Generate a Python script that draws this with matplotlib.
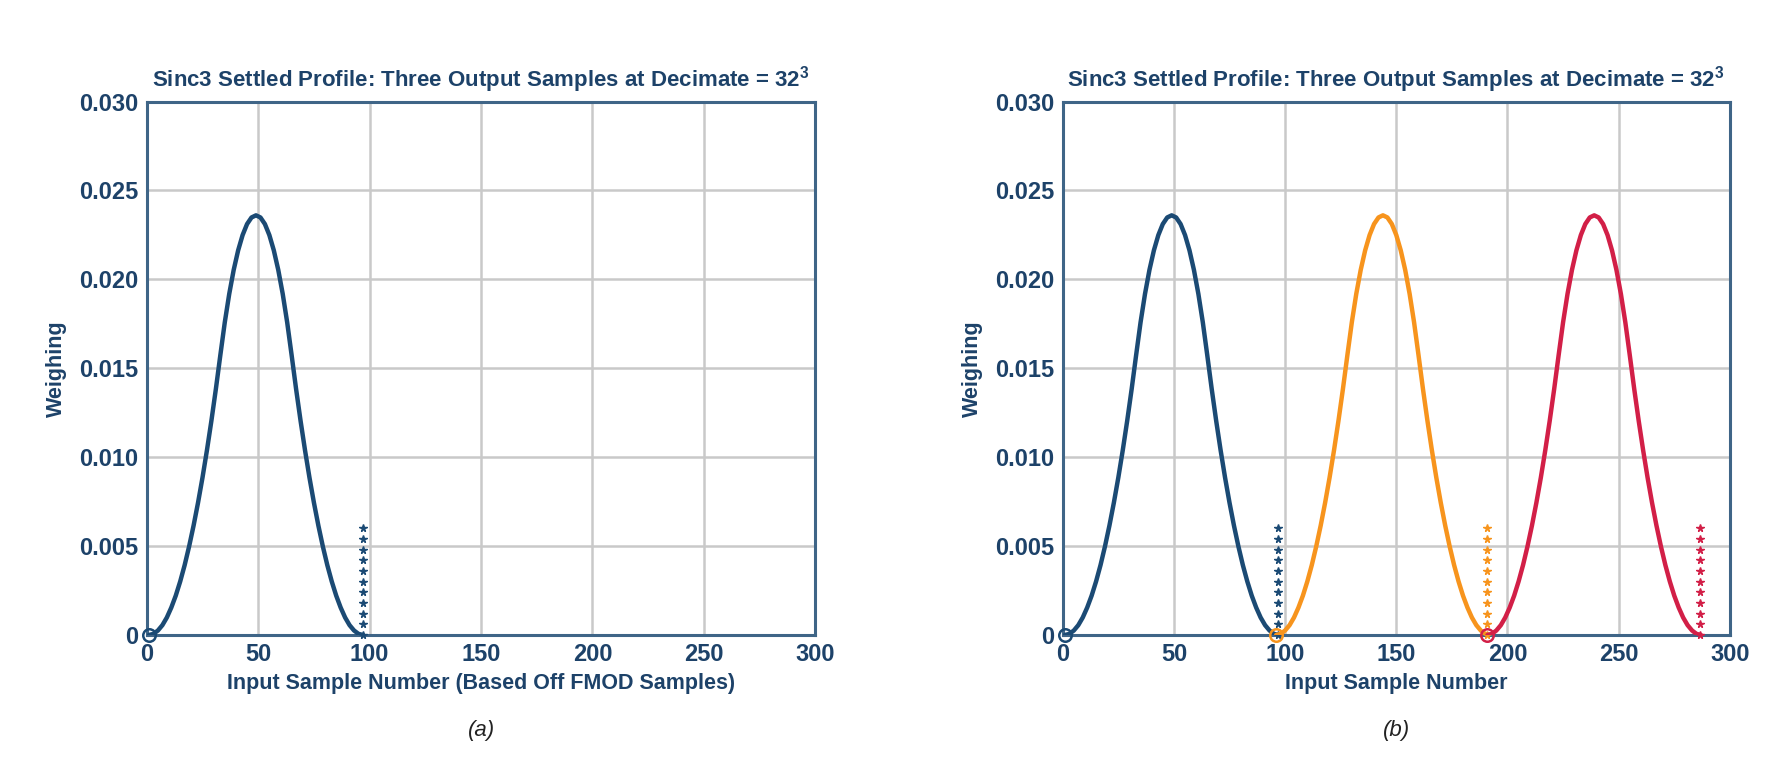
import matplotlib.pyplot as plt
import matplotlib

matplotlib.rcParams['font.family'] = ['Liberation Sans', 'DejaVu Sans']
matplotlib.rcParams['mathtext.fontset'] = 'custom'
matplotlib.rcParams['mathtext.rm'] = 'Liberation Sans:bold'

# one settled sinc3 weighting profile
profile_x = [1, 3, 5, 7, 9, 11, 13, 15, 17, 19, 21, 23, 25, 27, 29, 31, 33,
             35, 37, 39, 41, 43, 45, 47, 49, 51, 53, 55, 57, 59, 61, 63, 65,
             67, 69, 71, 73, 75, 77, 79, 81, 83, 85, 87, 89, 91, 93, 95, 97]
profile_w = [0.0, 0.00006, 0.00025, 0.00055, 0.00098, 0.00154, 0.00221,
             0.00301, 0.00393, 0.00498, 0.00615, 0.00744, 0.00885, 0.01039,
             0.01205, 0.01383, 0.01573, 0.01758, 0.01918, 0.02053, 0.02163,
             0.02249, 0.02311, 0.02348, 0.0236,
             0.02348, 0.02311, 0.02249, 0.02163, 0.02053, 0.01918, 0.01758,
             0.01573, 0.01383, 0.01205, 0.01039, 0.00885, 0.00744, 0.00615,
             0.00498, 0.00393, 0.00301, 0.00221, 0.00154, 0.00098, 0.00055,
             0.00025, 0.00006, 0.0]

# shift of each output sample's profile (input samples)
shifts = [0, 95, 190]
colors = ['#1b4a74', '#f7941d', '#d21f47']

# dotted markers where each output sample is taken
dot_x = [96.8, 191, 286.4]
dot_levels = [0.0, 0.0006, 0.0012, 0.0018, 0.0024, 0.003, 0.0036,
              0.0042, 0.0048, 0.0054, 0.006]

x_ticks = [0, 50, 100, 150, 200, 250, 300]
y_ticks = [0, 0.005, 0.010, 0.015, 0.020, 0.025, 0.030]
y_ticklabels = ['0', '0.005', '0.010', '0.015', '0.020', '0.025', '0.030']

title = 'Sinc3 Settled Profile: Three Output Samples at Decimate = 32$^{\\mathrm{3}}$'
xlabels = ['Input Sample Number (Based Off FMOD Samples)', 'Input Sample Number']
captions = ['(a)', '(b)']

txt = '#1d4269'
spine_c = '#3f6587'

fig = plt.figure(figsize=(17.9, 7.81), dpi=100)
axes = [fig.add_axes([0.082, 0.187, 0.3735, 0.683]),
        fig.add_axes([0.5937, 0.187, 0.3727, 0.683])]

for i, ax in enumerate(axes):
    n = 1 if i == 0 else 3
    for k in range(n):
        xs = [x + shifts[k] for x in profile_x]
        ax.plot(xs, profile_w, color=colors[k], lw=3.2, zorder=3,
                solid_capstyle='round', solid_joinstyle='round')
        ax.plot([xs[0]], [profile_w[0]], 'o', ms=9, mfc='none', mec=colors[k],
                mew=1.8, zorder=4, clip_on=False)
        ax.plot([dot_x[k]] * len(dot_levels), dot_levels, '*', ms=5.5,
                color=colors[k], zorder=3, clip_on=False)

    ax.set_xlim(0, 300)
    ax.set_ylim(0, 0.030)
    ax.set_xticks(x_ticks)
    ax.set_yticks(y_ticks)
    ax.set_yticklabels(y_ticklabels)
    ax.grid(True, color='#c9c9c9', lw=1.8)
    ax.set_axisbelow(True)
    ax.tick_params(length=0, pad=6, labelsize=17, labelcolor=txt)
    for t in ax.get_xticklabels() + ax.get_yticklabels():
        t.set_fontweight('bold')
    for s in ax.spines.values():
        s.set_color(spine_c)
        s.set_linewidth(2.2)

    ax.set_title(title, fontsize=16, fontweight='bold', color=txt, pad=11)
    ax.set_xlabel(xlabels[i], fontsize=15.5, fontweight='bold', color=txt,
                  labelpad=5)
    ax.set_ylabel('Weighing', fontsize=15.5, fontweight='bold', color=txt,
                  labelpad=9)
    ax.text(0.5, -0.18, captions[i], transform=ax.transAxes, ha='center',
            va='center', fontsize=16, style='italic', color='#222222')

fig.savefig('out.png', dpi=100)
